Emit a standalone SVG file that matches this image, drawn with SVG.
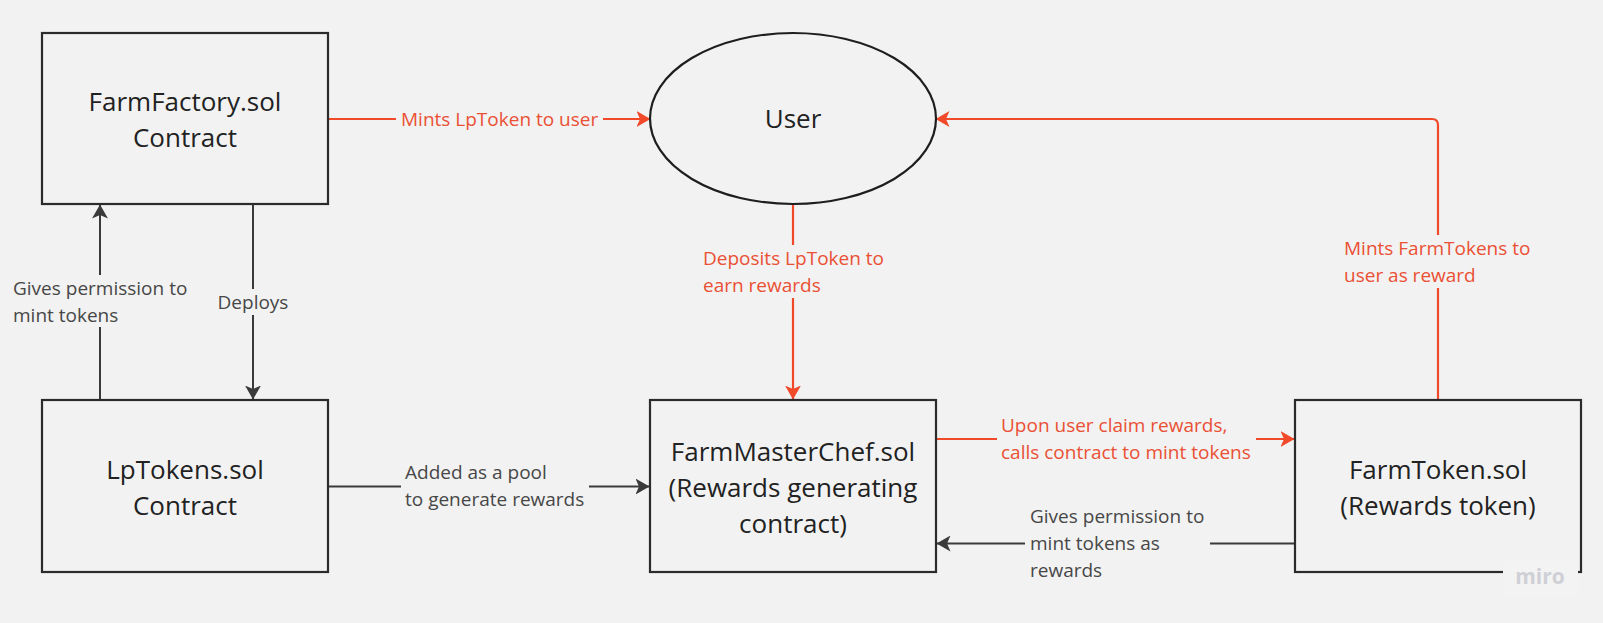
<svg xmlns="http://www.w3.org/2000/svg" width="1603" height="623" viewBox="0 0 1603 623">
<style>
.node{fill:#f2f2f2;stroke:#2b2b2b;stroke-width:2.2}
.nt{font-family:"Open Sans","Liberation Sans",sans-serif;font-size:26px;fill:#222;text-anchor:middle}
.lbl{font-family:"Open Sans","Liberation Sans",sans-serif;font-size:19px;fill:#474747}
.lblr{font-family:"Open Sans","Liberation Sans",sans-serif;font-size:19px;fill:#ea5034}
.ln{fill:none;stroke:#3a3a3a;stroke-width:2}
.lr{fill:none;stroke:#f04a2a;stroke-width:2.2}
</style>
<defs>
<marker id="ad" viewBox="0 0 14 16" refX="13.5" refY="8" markerWidth="14" markerHeight="16" markerUnits="userSpaceOnUse" orient="auto">
<path d="M0,0 L14,8 L0,16 L3.5,8 Z" fill="#3a3a3a"/>
</marker>
<marker id="ar" viewBox="0 0 14 16" refX="13.5" refY="8" markerWidth="14" markerHeight="16" markerUnits="userSpaceOnUse" orient="auto">
<path d="M0,0 L14,8 L0,16 L3.5,8 Z" fill="#f04a2a"/>
</marker>
</defs>
<rect width="1603" height="623" fill="#f2f2f2"/>

<g id="connectors">
<!-- FarmFactory -> User -->
<path class="lr" d="M329,119 H396"/>
<path class="lr" d="M603,119 H650" marker-end="url(#ar)"/>
<text class="lblr" x="401" y="126">Mints LpToken to user</text>
<!-- LpTokens -> FarmFactory -->
<path class="ln" d="M100,399 V327"/>
<path class="ln" d="M100,275 V205" marker-end="url(#ad)"/>
<text class="lbl" x="13" y="295">Gives permission to</text>
<text class="lbl" x="13" y="322">mint tokens</text>
<!-- FarmFactory -> LpTokens -->
<path class="ln" d="M253,205 V289"/>
<path class="ln" d="M253,315 V399" marker-end="url(#ad)"/>
<text class="lbl" x="253" y="309" text-anchor="middle">Deploys</text>
<!-- User -> MasterChef -->
<path class="lr" d="M793,205 V245"/>
<path class="lr" d="M793,298 V399" marker-end="url(#ar)"/>
<text class="lblr" x="703" y="265">Deposits LpToken to</text>
<text class="lblr" x="703" y="292">earn rewards</text>
<!-- LpTokens -> MasterChef -->
<path class="ln" d="M329,486.5 H401"/>
<path class="ln" d="M589,486.5 H649" marker-end="url(#ad)"/>
<text class="lbl" x="405" y="479">Added as a pool</text>
<text class="lbl" x="405" y="506">to generate rewards</text>
<!-- MasterChef -> FarmToken -->
<path class="lr" d="M937,439 H997"/>
<path class="lr" d="M1256,439 H1294" marker-end="url(#ar)"/>
<text class="lblr" x="1001" y="432">Upon user claim rewards,</text>
<text class="lblr" x="1001" y="459">calls contract to mint tokens</text>
<!-- FarmToken -> MasterChef -->
<path class="ln" d="M1294,543.5 H1210"/>
<path class="ln" d="M1025,543.5 H937" marker-end="url(#ad)"/>
<text class="lbl" x="1030" y="523">Gives permission to</text>
<text class="lbl" x="1030" y="550">mint tokens as</text>
<text class="lbl" x="1030" y="577">rewards</text>
<!-- FarmToken -> User -->
<path class="lr" d="M1438,399 V288"/>
<path class="lr" d="M1438,235 V125 Q1438,119 1432,119 H936" marker-end="url(#ar)"/>
<text class="lblr" x="1344" y="255">Mints FarmTokens to</text>
<text class="lblr" x="1344" y="282">user as reward</text>
</g>

<g id="farmFactory">
<rect class="node" x="42" y="33" width="286" height="171"/>
<text class="nt" x="185" y="111">FarmFactory.sol</text>
<text class="nt" x="185" y="147">Contract</text>
</g>
<g id="user">
<ellipse class="node" cx="793" cy="118.5" rx="143" ry="85.5" style="stroke:#1e1e1e"/>
<text class="nt" x="793" y="128">User</text>
</g>
<g id="lpTokens">
<rect class="node" x="42" y="400" width="286" height="172"/>
<text class="nt" x="185" y="479">LpTokens.sol</text>
<text class="nt" x="185" y="515">Contract</text>
</g>
<g id="farmMasterChef">
<rect class="node" x="650" y="400" width="286" height="172"/>
<text class="nt" x="793" y="461">FarmMasterChef.sol</text>
<text class="nt" x="793" y="497">(Rewards generating</text>
<text class="nt" x="793" y="533">contract)</text>
</g>
<g id="farmToken">
<rect class="node" x="1295" y="400" width="286" height="172"/>
<text class="nt" x="1438" y="479">FarmToken.sol</text>
<text class="nt" x="1438" y="515">(Rewards token)</text>
</g>
<g id="watermark">
<rect x="1503" y="560" width="75" height="37" fill="#f3f3f3"/>
<text x="1540" y="584" text-anchor="middle" font-family="'Open Sans','Liberation Sans',sans-serif" font-size="21" font-weight="700" fill="#cfcfd6">miro</text>
</g>
</svg>
